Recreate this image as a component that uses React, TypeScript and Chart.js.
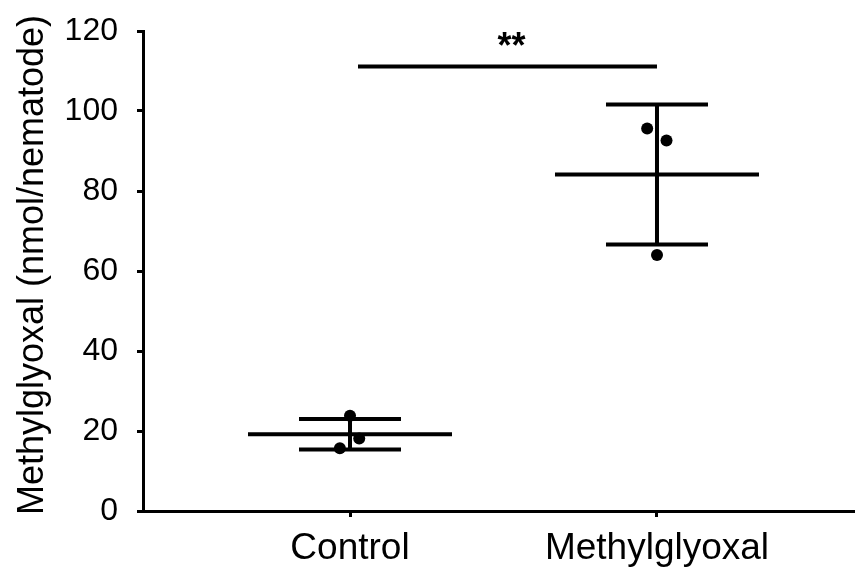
import React, { useEffect, useRef } from "react";
import { Chart, registerables } from "chart.js";

Chart.register(...registerables);

// ---- data ----
const categories = ["Control", "Methylglyoxal"];
const controlValues = [23.8, 18.1, 15.7];
const methylglyoxalValues = [95.6, 92.6, 64.0];
const controlJitter = [0, 0.03, -0.033];
const methylglyoxalJitter = [-0.032, 0.031, 0];
const means = [19.2, 84.1];
const sds = [3.8, 17.5];
const yTicks = [0, 20, 40, 60, 80, 100, 120];
const significanceY = 111.1;
const significanceLabel = "**";
const yTitle = "Methylglyoxal (nmol/nematode)";

const FONT = "'Liberation Sans', Arial, Helvetica, sans-serif";

const errorBarPlugin = {
  id: "errorBars",
  beforeDatasetsDraw(chart: any) {
    const { ctx, scales } = chart;
    const xs = scales.x;
    const ys = scales.y;
    const meanHalf = 102;
    const capHalf = 51;
    ctx.save();
    ctx.strokeStyle = "#000";
    ctx.lineWidth = 4;
    ctx.lineCap = "butt";
    means.forEach((m, i) => {
      const cx = xs.getPixelForValue(i + 1);
      const yM = ys.getPixelForValue(m);
      const yU = ys.getPixelForValue(m + sds[i]);
      const yL = ys.getPixelForValue(m - sds[i]);
      ctx.beginPath();
      ctx.moveTo(cx - meanHalf, yM);
      ctx.lineTo(cx + meanHalf, yM);
      ctx.moveTo(cx - capHalf, yU);
      ctx.lineTo(cx + capHalf, yU);
      ctx.moveTo(cx - capHalf, yL);
      ctx.lineTo(cx + capHalf, yL);
      ctx.moveTo(cx, yU);
      ctx.lineTo(cx, yL);
      ctx.stroke();
    });
    // significance bar
    const x1 = xs.getPixelForValue(1) + 8;
    const x2 = xs.getPixelForValue(2);
    const yS = ys.getPixelForValue(significanceY);
    ctx.beginPath();
    ctx.moveTo(x1, yS);
    ctx.lineTo(x2, yS);
    ctx.stroke();
    ctx.fillStyle = "#000";
    ctx.font = `bold 36px ${FONT}`;
    ctx.textAlign = "center";
    ctx.textBaseline = "alphabetic";
    ctx.fillText(significanceLabel, (x1 + x2) / 2 + 4, yS - 9);
    ctx.restore();
  },
  afterDraw(chart: any) {
    const { ctx, chartArea } = chart;
    ctx.save();
    ctx.fillStyle = "#000";
    ctx.font = `36px ${FONT}`;
    ctx.textAlign = "center";
    ctx.textBaseline = "alphabetic";
    ctx.translate(chartArea.left - 100, (chartArea.top + chartArea.bottom) / 2 - 6);
    ctx.rotate(-Math.PI / 2);
    ctx.fillText(yTitle, 0, 0);
    ctx.restore();
  },
};

export default function App() {
  const ref = useRef<HTMLCanvasElement>(null);
  useEffect(() => {
    if (!ref.current) return;
    const chart = new Chart(ref.current, {
      type: "scatter",
      data: {
        datasets: [
          {
            label: categories[0],
            data: controlValues.map((v, i) => ({ x: 1 + controlJitter[i], y: v })),
            backgroundColor: "#000",
            borderWidth: 0,
            pointRadius: 6,
            clip: false,
          },
          {
            label: categories[1],
            data: methylglyoxalValues.map((v, i) => ({ x: 2 + methylglyoxalJitter[i], y: v })),
            backgroundColor: "#000",
            borderWidth: 0,
            pointRadius: 6,
            clip: false,
          },
        ],
      },
      options: {
        responsive: false,
        animation: false,
        layout: { autoPadding: false, padding: { top: 31, left: 0, right: 0, bottom: 0 } },
        plugins: { legend: { display: false }, tooltip: { enabled: false } },
        scales: {
          x: {
            type: "linear",
            min: 0.3257,
            max: 2.645,
            afterBuildTicks: (s: any) => {
              s.ticks = categories.map((_, i) => ({ value: i + 1 }));
            },
            afterFit: (s: any) => {
              s.height = 58;
            },
            ticks: {
              color: "#000",
              font: { family: FONT, size: 37 },
              padding: 10,
              maxRotation: 0,
              autoSkip: false,
              callback: (v: any) => categories[Math.round(Number(v)) - 1] ?? "",
            },
            grid: {
              display: true,
              drawOnChartArea: false,
              drawTicks: true,
              tickLength: 6,
              color: "#000",
              lineWidth: 3,
            },
            border: { display: true, color: "#000", width: 3 },
          },
          y: {
            type: "linear",
            min: 0,
            max: 120,
            afterBuildTicks: (s: any) => {
              s.ticks = yTicks.map((v) => ({ value: v }));
            },
            afterFit: (s: any) => {
              s.width = 143;
            },
            ticks: {
              color: "#000",
              font: { family: FONT, size: 32, lineHeight: 0.5 },
              padding: 19,
            },
            grid: {
              display: true,
              drawOnChartArea: false,
              drawTicks: true,
              tickLength: 6,
              color: "#000",
              lineWidth: 3,
            },
            border: { display: true, color: "#000", width: 3 },
            title: { display: false },
          },
        },
      },
      plugins: [errorBarPlugin],
    });
    return () => chart.destroy();
  }, []);
  return (
    <div style={{ position: "fixed", left: 0, top: 0, width: 855, height: 569, background: "#fff" }}>
      <canvas ref={ref} width={855} height={569} style={{ display: "block" }} />
    </div>
  );
}
